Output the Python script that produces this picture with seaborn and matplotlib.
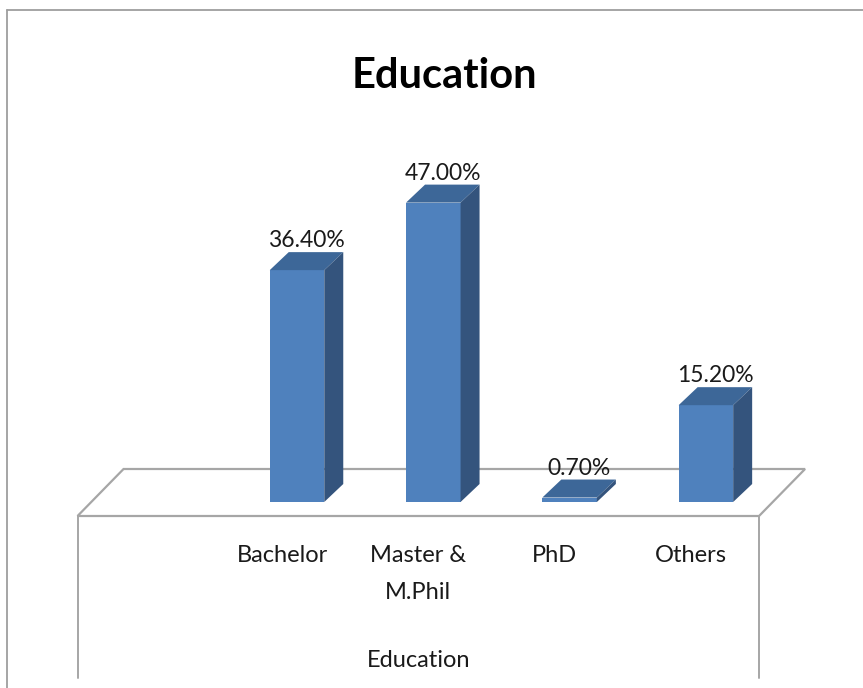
import matplotlib
matplotlib.use("Agg")
import matplotlib.pyplot as plt
from matplotlib import font_manager
from matplotlib.patches import Polygon
from matplotlib.lines import Line2D
import seaborn as sns
import pandas as pd

# ---- data ----
categories = ["Bachelor", "Master &\nM.Phil", "PhD", "Others"]
values = [36.4, 47.0, 0.7, 15.2]
value_labels = ["36.40%", "47.00%", "0.70%", "15.20%"]
title = "Education"
axis_title = "Education"

# ---- fonts ----
avail = {f.name for f in font_manager.fontManager.ttflist}
fam = "Liberation Sans Narrow" if "Liberation Sans Narrow" in avail else "Lato"

sns.set_theme(style="white")
plt.rcParams["font.family"] = [fam, "DejaVu Sans"]

W, H, DPI = 863, 688, 100
fig = plt.figure(figsize=(W / DPI, H / DPI), dpi=DPI)
fig.patch.set_facecolor("white")
ax = fig.add_axes([0, 0, 1, 1])

# pixel layout of the value axis (bar front plane)
X0_PX, UX = 160.7, 136.3   # pixel of slot 0 centre, pixels per slot
Y0_PX, UY = 502.0, 6.37    # pixel row of value 0, pixels per percent

def px(dx, dy):
    return dx / UX, dy / UY

# depth geometry (pixels)
front_dx, front_dy = px(15, 14)    # floor front -> bar front
bar_dx, bar_dy = px(19, 18)        # bar depth
floor_dx, floor_dy = px(46, 47)    # floor depth

order = [" "] + categories
df = pd.DataFrame({"cat": categories, "val": values})
front_col = "#4F81BD"
top_col = "#3D6798"
side_col = "#34547D"
sns.barplot(data=df, x="cat", y="val", order=order, color=front_col,
            saturation=1, width=0.40, ax=ax, zorder=3, linewidth=0)
ax.axis("off")
ax.set_xlim(-X0_PX / UX, (W - X0_PX) / UX)
ax.set_ylim((Y0_PX - H) / UY, Y0_PX / UY)

# floor
fx0 = -0.5 - front_dx
fx1 = len(order) - 0.5 - front_dx
fy = -front_dy
grey = "#A6A6A6"
floor = Polygon([(fx0, fy), (fx1, fy), (fx1 + floor_dx, fy + floor_dy),
                 (fx0 + floor_dx, fy + floor_dy)], closed=True,
                facecolor="white", edgecolor=grey, linewidth=1.6, zorder=1)
bars = list(ax.patches)
ax.add_patch(floor)
ybot = (Y0_PX - 678) / UY
for xx in (fx0, fx1):
    ax.add_line(Line2D([xx, xx], [fy, ybot], color=grey, linewidth=1.4, zorder=1))

# 3D faces for bars
for p, lab in zip(bars, value_labels):
    x0 = p.get_x()
    x1 = x0 + p.get_width()
    h = p.get_height()
    top = Polygon([(x0, h), (x1, h), (x1 + bar_dx, h + bar_dy), (x0 + bar_dx, h + bar_dy)],
                  closed=True, facecolor=top_col, edgecolor="none", zorder=4)
    side = Polygon([(x1, 0), (x1 + bar_dx, bar_dy), (x1 + bar_dx, h + bar_dy), (x1, h)],
                   closed=True, facecolor=side_col, edgecolor="none", zorder=4)
    ax.add_patch(top)
    ax.add_patch(side)
    cx = (x0 + x1 + bar_dx) / 2
    ax.text(cx, h + bar_dy + 5 / UY, lab, ha="center", va="baseline",
            fontsize=16.5, color="#1a1a1a", zorder=6)

# category labels
for i, c in enumerate(order):
    if not c.strip():
        continue
    ax.text(i - front_dx, (Y0_PX - 545) / UY, c, ha="center", va="top",
            fontsize=17, color="#1a1a1a", linespacing=1.95, zorder=6)

# axis title
ax.text((fx0 + fx1) / 2, (Y0_PX - 667) / UY, axis_title, ha="center", va="baseline",
        fontsize=17, color="#1a1a1a", zorder=6)

# chart title
fig.text(444 / W, 1 - 88 / H, title, ha="center", va="baseline",
         fontsize=30, fontweight="bold", color="black")

# outer chart border (left & top visible)
fig.add_artist(Line2D([7 / W, 7 / W], [0, 1 - 10 / H], color="#9E9E9E", linewidth=1.3,
                      transform=fig.transFigure))
fig.add_artist(Line2D([7 / W, 1], [1 - 10 / H, 1 - 10 / H], color="#9E9E9E", linewidth=1.3,
                      transform=fig.transFigure))

fig.savefig("out.png", dpi=DPI)
